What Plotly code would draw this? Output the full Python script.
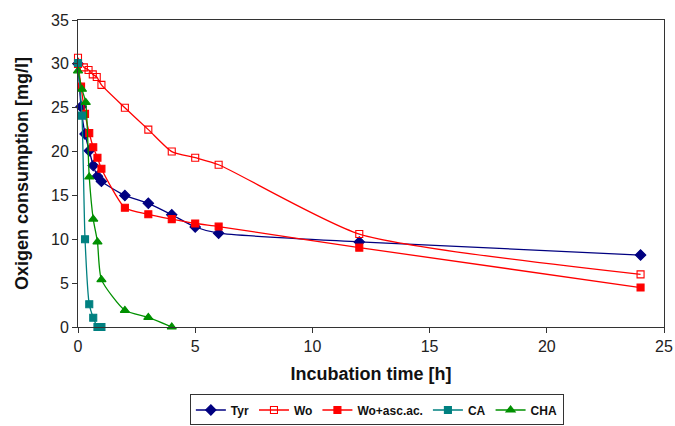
import plotly.graph_objects as go

tyr_x = [0, 0.13, 0.3, 0.48, 0.65, 0.83, 1, 2, 3, 4, 5, 6, 12, 24]
tyr_y = [30, 25.1, 22.0, 20.1, 18.4, 17.2, 16.6, 15.0, 14.1, 12.8, 11.4, 10.7, 9.7, 8.2]

wo_x = [0, 0.25, 0.45, 0.63, 0.8, 1, 2, 3, 4, 5, 6, 12, 24]
wo_y = [30.7, 29.6, 29.3, 28.8, 28.5, 27.6, 25.0, 22.5, 20.0, 19.3, 18.5, 10.6, 6.0]

woasc_x = [0, 0.13, 0.3, 0.48, 0.65, 0.83, 1, 2, 3, 4, 5, 6, 12, 24]
woasc_y = [30, 27.4, 24.3, 22.1, 20.5, 19.3, 18.05, 13.6, 12.85, 12.3, 11.8, 11.45, 9.05, 4.5]

ca_x = [0, 0.17, 0.3, 0.48, 0.65, 0.83, 1]
ca_y = [30.1, 24.1, 10.0, 2.6, 1.06, 0, 0]

cha_x = [0, 0.17, 0.33, 0.48, 0.65, 0.83, 1, 2, 3, 4]
cha_y = [29.2, 27.1, 25.6, 17.1, 12.3, 9.7, 5.4, 1.9, 1.1, 0]

FONT = "Arial, Liberation Sans, sans-serif"

fig = go.Figure()

def add(name, x, y, color, symbol, msize, fill=True):
    fig.add_trace(go.Scatter(
        x=x, y=y, name=name, mode="lines+markers",
        line=dict(color=color, width=1.3, shape="spline", smoothing=0.6),
        marker=dict(symbol=symbol, size=msize,
                    color=color if fill else "white",
                    line=dict(color=color, width=1.1)),
        cliponaxis=False,
    ))

add("Tyr", tyr_x, tyr_y, "#000080", "diamond", 8)
add("Wo", wo_x, wo_y, "#FF0000", "square-open", 7)
add("Wo+asc.ac.", woasc_x, woasc_y, "#FF0000", "square", 7)
add("CA", ca_x, ca_y, "#008080", "square", 7)
add("CHA", cha_x, cha_y, "#009000", "triangle-up", 8)

axis_common = dict(
    showline=True, linecolor="#333333", linewidth=1, mirror=True,
    ticks="outside", ticklen=5, tickcolor="#333333",
    showgrid=False, zeroline=False, automargin=False,
    tickfont=dict(family=FONT, size=16, color="#222222"),
)

fig.update_layout(
    width=675, height=426,
    margin=dict(l=78, r=11, t=20, b=99),
    paper_bgcolor="white", plot_bgcolor="white",
    font=dict(family=FONT),
    xaxis=dict(range=[0, 25], dtick=5,
               title=dict(text="<b>Incubation time [h]</b>", standoff=13,
                          font=dict(family=FONT, size=18, color="#111111")),
               **axis_common),
    yaxis=dict(range=[0, 35], dtick=5,
               title=dict(text="<b>Oxigen consumption [mg/l]</b>", standoff=17,
                          font=dict(family=FONT, size=18, color="#111111")),
               **axis_common),
    legend=dict(orientation="h", x=0.51, xanchor="center",
                yref="container", y=0.074, yanchor="top",
                bordercolor="#333333", borderwidth=1,
                font=dict(family=FONT, size=12, color="#111111", weight="bold"),
                itemwidth=30, tracegroupgap=0),
    showlegend=True,
)

fig.write_html("out.html",
               config={"displayModeBar": False},
               post_script="document.body.style.margin='0';document.body.style.overflow='hidden';")
